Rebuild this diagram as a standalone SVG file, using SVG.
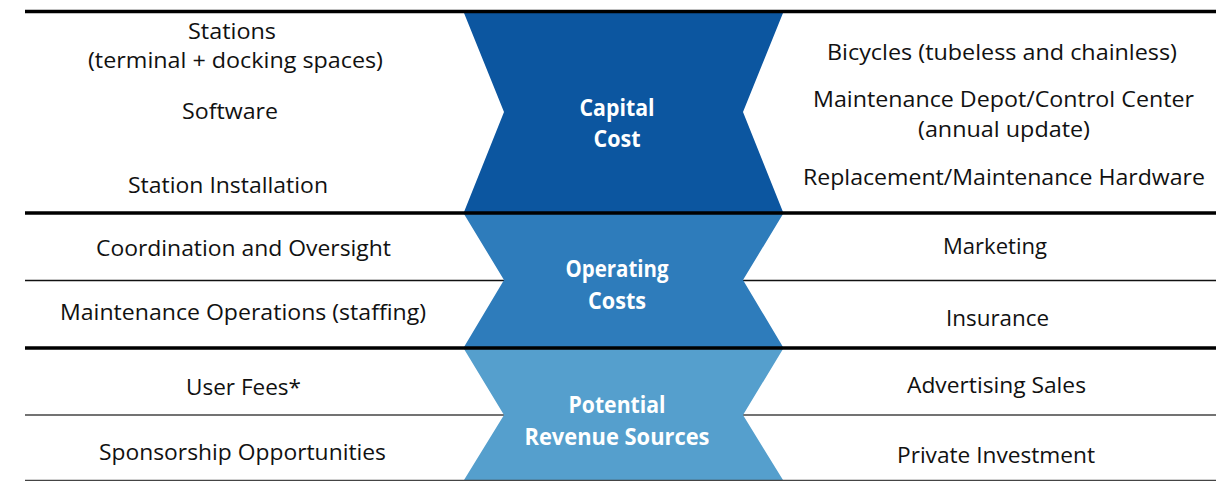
<svg xmlns="http://www.w3.org/2000/svg" width="1216" height="481" viewBox="0 0 1216 481">
<style>
.t{font-family:"Open Sans","Liberation Sans",sans-serif;font-size:21px;fill:#111;text-anchor:middle}
.h{font-family:"Open Sans","Liberation Sans",sans-serif;font-size:23px;font-weight:bold;fill:#fff;text-anchor:middle}
.thick{stroke:#000;stroke-width:3.5}
.thin{stroke:#111;stroke-width:1.5}
.grey{stroke:#444;stroke-width:1.5}
</style>
<rect width="1216" height="481" fill="#fff"/>
<g id="connectors">
<line class="thin" x1="25" y1="280.5" x2="505" y2="280.5"/>
<line class="thin" x1="741" y1="280.5" x2="1216" y2="280.5"/>
<line class="grey" x1="25" y1="415" x2="505" y2="415"/>
<line class="grey" x1="741" y1="415" x2="1216" y2="415"/>
</g>
<g id="capital">
<polygon points="464,13 783,13 743,112 783,212 464,212 504,112" fill="#0C56A0"/>
<text class="h" x="617" y="116" textLength="75" lengthAdjust="spacingAndGlyphs">Capital</text>
<text class="h" x="617" y="147" textLength="47" lengthAdjust="spacingAndGlyphs">Cost</text>
</g>
<g id="operating">
<polygon points="464,214 783,214 743,280 783,347 464,347 504,280" fill="#2E7CBB"/>
<text class="h" x="617" y="277" textLength="103" lengthAdjust="spacingAndGlyphs">Operating</text>
<text class="h" x="617" y="309" textLength="58" lengthAdjust="spacingAndGlyphs">Costs</text>
</g>
<g id="revenue">
<polygon points="464,349 783,349 743,415 783,480 464,480 504,415" fill="#559FCD"/>
<text class="h" x="617" y="413" textLength="97" lengthAdjust="spacingAndGlyphs">Potential</text>
<text class="h" x="617" y="445" textLength="185" lengthAdjust="spacingAndGlyphs">Revenue Sources</text>
</g>
<g id="rules">
<line class="thick" x1="25" y1="11.5" x2="1216" y2="11.5"/>
<line class="thick" x1="25" y1="213" x2="1216" y2="213"/>
<line class="thick" x1="25" y1="348" x2="1216" y2="348"/>
<line class="grey" x1="25" y1="480.5" x2="1216" y2="480.5"/>
</g>
<g id="capital-left">
<text class="t" x="232" y="39" textLength="88" lengthAdjust="spacingAndGlyphs">Stations</text>
<text class="t" x="235.5" y="68" textLength="295" lengthAdjust="spacingAndGlyphs">(terminal + docking spaces)</text>
<text class="t" x="230" y="119" textLength="96" lengthAdjust="spacingAndGlyphs">Software</text>
<text class="t" x="228" y="193" textLength="200" lengthAdjust="spacingAndGlyphs">Station Installation</text>
</g>
<g id="capital-right">
<text class="t" x="1002" y="60" textLength="350" lengthAdjust="spacingAndGlyphs">Bicycles (tubeless and chainless)</text>
<text class="t" x="1003.5" y="107" textLength="381" lengthAdjust="spacingAndGlyphs">Maintenance Depot/Control Center</text>
<text class="t" x="1004" y="137" textLength="172" lengthAdjust="spacingAndGlyphs">(annual update)</text>
<text class="t" x="1004" y="185" textLength="402" lengthAdjust="spacingAndGlyphs">Replacement/Maintenance Hardware</text>
</g>
<g id="operating-left">
<text class="t" x="243.5" y="256" textLength="295" lengthAdjust="spacingAndGlyphs">Coordination and Oversight</text>
<text class="t" x="243" y="320" textLength="366" lengthAdjust="spacingAndGlyphs">Maintenance Operations (staffing)</text>
</g>
<g id="operating-right">
<text class="t" x="995" y="254" textLength="104" lengthAdjust="spacingAndGlyphs">Marketing</text>
<text class="t" x="997.5" y="326" textLength="103" lengthAdjust="spacingAndGlyphs">Insurance</text>
</g>
<g id="revenue-left">
<text class="t" x="243.5" y="395" textLength="115" lengthAdjust="spacingAndGlyphs">User Fees*</text>
<text class="t" x="242.5" y="460" textLength="287" lengthAdjust="spacingAndGlyphs">Sponsorship Opportunities</text>
</g>
<g id="revenue-right">
<text class="t" x="996.5" y="393" textLength="179" lengthAdjust="spacingAndGlyphs">Advertising Sales</text>
<text class="t" x="996" y="463" textLength="198" lengthAdjust="spacingAndGlyphs">Private Investment</text>
</g>
</svg>
